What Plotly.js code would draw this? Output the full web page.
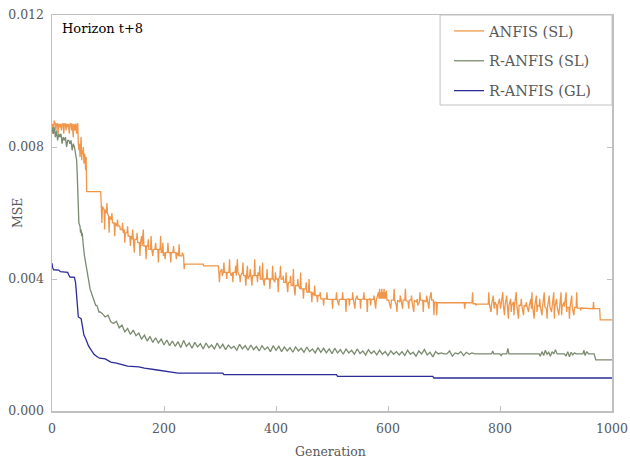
<!DOCTYPE html>
<html>
<head>
<meta charset="utf-8">
<script src="https://cdn.plot.ly/plotly-3.0.1.min.js"></script>
<style>html,body{margin:0;padding:0;background:#fff;}#chart{width:630px;height:460px;}</style>
</head>
<body>
<div id="chart"></div>
<script>
// [generation, MSE] pairs
const anfisSL = [
[0,0.0085],[1,0.0087],[2,0.0084],[3,0.0087],[4,0.0088],[6,0.0087],[7,0.0085],[8,0.0087],[10,0.0087],[11,0.0084],
[12,0.0087],[14,0.0086],[15,0.0087],[17,0.0085],[18,0.0087],[20,0.0087],[21,0.0084],[22,0.0087],[24,0.0087],[25,0.0085],
[26,0.0087],[28,0.0086],[29,0.0087],[31,0.0084],[32,0.0087],[34,0.0087],[35,0.0085],[36,0.0087],[38,0.0083],[39,0.0087],
[41,0.0085],[42,0.0087],[44,0.0084],[45,0.0087],[46,0.0087],
[47,0.0081],[48,0.0079],[49,0.0081],[50,0.0077],[51,0.0080],[52,0.0083],[53,0.0076],[54,0.0079],[55,0.0078],[56,0.0080],
[57,0.0075],[58,0.0078],[59,0.0077],[60,0.0073],[61,0.0077],[62,0.00665],[87,0.00665],
[88,0.0062],[89,0.0057],[90,0.0062],[93,0.0061],[94,0.0055],[95,0.0061],[97,0.0060],[98,0.0063],[99,0.0060],[101,0.0059],
[102,0.0054],[103,0.0059],[106,0.0058],[107,0.0060],[108,0.0057],[111,0.0057],[112,0.0053],[113,0.0057],[116,0.0056],[117,0.0058],
[118,0.0056],[121,0.0056],[122,0.0055],[125,0.0055],[126,0.0057],[127,0.0054],[129,0.0055],[130,0.0051],[131,0.0054],[134,0.0054],
[135,0.0056],[136,0.0053],[139,0.0053],[140,0.0050],[141,0.0053],[143,0.0052],[144,0.0055],[145,0.0052],[147,0.0048],[148,0.0052],
[151,0.0052],[152,0.0054],[153,0.0051],[156,0.0051],[157,0.0047],[158,0.0051],[160,0.0053],[161,0.0050],[163,0.0055],[164,0.0050],
[167,0.0050],[168,0.0046],[169,0.0050],[171,0.0050],[172,0.0052],[173,0.0049],[176,0.0049],[177,0.0053],[178,0.0049],[180,0.0047],
[181,0.0049],[184,0.0049],[185,0.0051],[186,0.0049],[189,0.0049],[190,0.0045],[191,0.0049],[193,0.0049],[194,0.0053],[195,0.0048],
[197,0.0048],[198,0.0051],[199,0.0047],[201,0.0048],[202,0.0046],[203,0.0048],[206,0.0048],[207,0.0051],[208,0.0048],[211,0.0048],
[212,0.0045],[213,0.0048],[216,0.0048],[217,0.0050],[218,0.0048],[221,0.0048],[222,0.0046],[223,0.0048],[226,0.0047],[227,0.00505],
[228,0.0047],[232,0.0047],[233,0.0048],[235,0.0047],[236,0.0043],[237,0.00445],[270,0.00445],[271,0.0044],[297,0.0044],
[298,0.0042],[299,0.0039],[300,0.0042],[303,0.0043],[304,0.0041],[306,0.0042],[307,0.0045],[308,0.0042],[311,0.0042],[312,0.0040],
[313,0.0042],[316,0.0042],[317,0.0046],[318,0.0042],[320,0.0041],[322,0.0042],[323,0.0039],[324,0.0042],[327,0.0042],[328,0.0044],
[329,0.0041],[331,0.0046],[332,0.0042],[335,0.0041],[336,0.0039],[337,0.0041],[340,0.0042],[341,0.0045],[342,0.0041],[345,0.0041],
[346,0.0038],[347,0.0041],[349,0.0044],[350,0.0040],[353,0.0041],[354,0.0043],[355,0.0041],[357,0.0038],[358,0.0041],[361,0.0041],
[362,0.0046],[363,0.0041],[366,0.0041],[367,0.0039],[368,0.0042],[370,0.0041],[371,0.0044],[372,0.0040],[375,0.0040],[376,0.0045],
[377,0.0040],[379,0.0038],[380,0.0040],[383,0.0040],[384,0.0043],[385,0.0040],[388,0.0040],[389,0.0037],[390,0.0040],[393,0.0040],
[394,0.0044],[395,0.0040],[398,0.0039],[399,0.0042],[400,0.0040],
[403,0.0040],[404,0.0036],[405,0.0040],[407,0.0041],[408,0.0044],[409,0.0040],[412,0.0040],[413,0.0041],[414,0.0039],[417,0.0039],
[418,0.0042],[419,0.0039],[421,0.0036],[422,0.0039],[425,0.0039],[426,0.0041],[427,0.0038],[430,0.0038],[431,0.0043],[432,0.0038],
[434,0.0035],[435,0.0038],[438,0.0038],[439,0.0040],[440,0.0038],[443,0.0037],[444,0.0042],[445,0.0037],[448,0.0037],[449,0.0034],
[450,0.0037],[453,0.0037],[454,0.0039],[455,0.0036],[458,0.0036],[459,0.0040],[460,0.0036],[463,0.0036],[464,0.0033],[465,0.0036],
[468,0.0035],[469,0.0038],[470,0.0035],[473,0.0035],[474,0.0033],[475,0.0035],[478,0.0035],[479,0.0036],[480,0.0034],[484,0.0034],
[485,0.0032],[486,0.0034],[490,0.0034],[491,0.0036],[492,0.00338],[500,0.00338],[501,0.0031],[502,0.00338],[507,0.00338],[508,0.0036],
[509,0.00338],[512,0.0032],[513,0.00338],
[518,0.00338],[519,0.0036],[520,0.00338],[524,0.00338],[525,0.0030],[526,0.00338],[530,0.0034],[531,0.0032],[532,0.00338],[536,0.00338],
[537,0.0036],[538,0.00338],[541,0.0031],[542,0.00338],[545,0.0035],[546,0.00338],[550,0.00338],[551,0.0031],[552,0.00338],[556,0.0034],
[557,0.0036],[558,0.00338],[562,0.00338],[563,0.0030],[564,0.00338],[568,0.0034],[569,0.0032],[570,0.00338],[574,0.00338],[575,0.0035],
[576,0.00336],[578,0.0031],[579,0.00336],[583,0.0036],[584,0.0034],[585,0.0037],[586,0.0034],[587,0.0036],[588,0.0034],[589,0.0037],
[590,0.0034],[591,0.0036],[592,0.0034],[593,0.0037],[594,0.0034],[595,0.0036],[596,0.0034],[597,0.00365],[598,0.00336],[601,0.00336],
[602,0.0033],[605,0.0031],[606,0.00336],[610,0.00336],[611,0.0037],[612,0.00336],[615,0.0032],[616,0.0030],[617,0.00336],[621,0.0033],
[622,0.0035],[623,0.00336],[626,0.0031],[627,0.00336],[630,0.00336],[631,0.0037],[632,0.00336],[636,0.0033],[637,0.0031],[638,0.00336],
[641,0.00336],[642,0.0035],[643,0.0033],[646,0.0030],[647,0.00336],[651,0.0033],[652,0.0034],[653,0.0032],[656,0.0033],[657,0.0036],
[658,0.00336],[662,0.00336],[663,0.0030],[664,0.00336],[668,0.0033],[669,0.0035],[670,0.00336],[673,0.0031],[674,0.00336],[677,0.0036],
[678,0.00336],[681,0.00336],[682,0.0029],[683,0.0033],[686,0.0033],[687,0.0029],[688,0.00328],
[736,0.00328],[737,0.0031],[738,0.00328],[750,0.00328],[751,0.0036],[752,0.00325],[756,0.00325],[757,0.0032],[758,0.00324],[779,0.00324],
[780,0.0036],[781,0.00324],[784,0.0030],[785,0.00324],[788,0.0035],[789,0.0032],[790,0.0031],[791,0.0033],[794,0.0032],[795,0.0029],
[796,0.0032],[799,0.0034],[800,0.0033],[801,0.0031],[802,0.00322],[805,0.0036],[806,0.0032],[808,0.0029],[809,0.0032],[812,0.0035],
[813,0.0032],[815,0.0028],[816,0.0032],[819,0.0034],[820,0.0030],[821,0.0032],[824,0.0033],[825,0.0029],[826,0.0032],[829,0.0036],
[830,0.0032],[833,0.0028],[834,0.0032],[837,0.0032],[838,0.0034],[839,0.0032],[842,0.0029],[843,0.0032],[846,0.00318],[847,0.0033],
[848,0.00318],[851,0.0030],[852,0.00318],[855,0.0034],[856,0.0031],[857,0.0036],[858,0.00318],[861,0.0028],[862,0.00318],[865,0.0035],
[866,0.0030],[867,0.0032],[870,0.00318],[871,0.0034],[872,0.00316],[875,0.0029],[876,0.00316],[879,0.0036],[880,0.00316],[883,0.0031],
[884,0.0028],[885,0.00316],[888,0.0035],[889,0.00316],[892,0.0030],[893,0.00316],[896,0.0036],[897,0.0028],[898,0.00316],[901,0.0034],
[902,0.00316],[905,0.0029],[906,0.00316],[909,0.0036],[910,0.0029],[911,0.00316],[914,0.0033],[915,0.00316],[918,0.0036],[919,0.0030],
[920,0.00314],[923,0.00314],[924,0.0028],[925,0.00314],[928,0.0035],[929,0.00314],[932,0.0029],[933,0.00314],[936,0.00314],[937,0.0036],
[938,0.00312],[943,0.00312],[944,0.00305],[945,0.00312],[966,0.0031],[967,0.0033],[968,0.0031],[978,0.0031],[979,0.00276],[1000,0.00276]
];

const ranfisSL = [
[0,0.0086],[2,0.0084],[4,0.0086],[6,0.0083],[8,0.0085],[10,0.0082],[12,0.0084],[14,0.0083],[16,0.0084],[18,0.0081],
[20,0.0083],[22,0.0082],[24,0.0083],[26,0.0080],[28,0.0082],[30,0.0082],[32,0.0081],[34,0.0082],[36,0.0079],[38,0.0081],
[40,0.0080],[42,0.0078],[44,0.0076],[45,0.0072],[46,0.0068],[47,0.0062],[48,0.0057],[50,0.0056],[51,0.0054],[52,0.0055],
[53,0.0053],[54,0.0054],[55,0.0051],[56,0.0050],[58,0.0047],[60,0.0045],[62,0.0042],[64,0.0041],[66,0.0039],[68,0.0037],
[70,0.0036],[72,0.0035],[74,0.0034],[76,0.0033],[78,0.0032],[80,0.0032],[82,0.0031],[84,0.0030],[86,0.0030],
[90,0.00295],[95,0.00285],[100,0.00290],[105,0.00270],[110,0.00265],[115,0.00272],[120,0.00252],[125,0.00260],[130,0.00240],[135,0.00250],
[140,0.00232],[145,0.00245],[150,0.00228],[155,0.00236],[160,0.00218],[165,0.00230],[170,0.00212],[175,0.00226],[180,0.00208],[185,0.00222],
[190,0.00206],[195,0.00218],[200,0.00200],[205,0.00215],[210,0.00198],[215,0.00212],[220,0.00196],[225,0.00210],[230,0.00192],[235,0.00214],
[240,0.00196],[245,0.00206],[250,0.00190],[255,0.00208],[260,0.00194],[265,0.00204],[270,0.00188],[275,0.00206],[280,0.00192],[285,0.00200],
[290,0.00188],[295,0.00206],[300,0.00190],[305,0.00202],[310,0.00186],[315,0.00200],[320,0.00190],[325,0.00196],[330,0.00184],[335,0.00202],
[340,0.00188],[345,0.00198],[350,0.00184],[355,0.00200],[360,0.00186],[365,0.00196],[370,0.00182],[375,0.00198],[380,0.00186],[385,0.00194],
[390,0.00180],[395,0.00198],[400,0.00184],[405,0.00196],[410,0.00180],[415,0.00194],[420,0.00182],[425,0.00192],[430,0.00178],[435,0.00194],
[440,0.00182],[445,0.00190],[450,0.00178],[455,0.00194],[460,0.00180],[465,0.00188],[470,0.00176],[475,0.00192],[480,0.00178],[485,0.00190],
[490,0.00176],[495,0.00188],[500,0.00174],[505,0.00190],[510,0.00176],[515,0.00186],[520,0.00172],[525,0.00188],[530,0.00176],[535,0.00184],
[540,0.00172],[545,0.00188],[550,0.00174],[555,0.00182],[560,0.00170],[565,0.00186],[570,0.00174],[575,0.00182],[580,0.00170],[585,0.00184],
[590,0.00172],[595,0.00180],[600,0.00168],[605,0.00182],[610,0.00172],[615,0.00180],[620,0.00170],
[625,0.00180],[630,0.00168],[635,0.00184],[640,0.00172],[645,0.00178],[650,0.00166],[655,0.00182],[660,0.00173],[665,0.00186],[670,0.00170],
[675,0.00178],[680,0.00164],[685,0.00180],[690,0.00173],[695,0.00176],[700,0.00173],[705,0.00173],[710,0.00182],[715,0.00166],[720,0.00176],
[725,0.00173],[730,0.00180],[735,0.00168],[740,0.00178],[745,0.00172],[750,0.00176],[755,0.00173],[785,0.00173],[787,0.00182],[789,0.00173],
[800,0.00173],[802,0.00168],[804,0.00173],[812,0.00173],[814,0.00190],[816,0.00173],[870,0.00173],[872,0.00166],[875,0.00180],[878,0.00168],
[881,0.00184],[884,0.00172],[887,0.00178],[890,0.00166],[893,0.00180],[896,0.00173],[899,0.00186],[902,0.00173],[915,0.00173],[918,0.00166],
[921,0.00180],[924,0.00164],[927,0.00178],[930,0.00170],[933,0.00176],[936,0.00173],[948,0.00173],[950,0.00184],[952,0.00168],[955,0.00180],
[958,0.00173],[968,0.00173],[971,0.00155],[1000,0.00155]
];

const ranfisGL = [
[0,0.00448],[1,0.00435],[3,0.00428],[12,0.00427],[15,0.00422],[28,0.0042],[30,0.00412],[32,0.00406],[40,0.00405],[42,0.0039],
[43,0.0037],[44,0.0035],[45,0.0033],[46,0.0030],[47,0.00285],[52,0.0028],[53,0.0027],[55,0.0025],[57,0.0023],[60,0.0022],
[62,0.0021],[65,0.00198],[68,0.0019],[72,0.0018],[75,0.00172],[80,0.00165],[85,0.0016],[95,0.00158],[100,0.00152],[105,0.00148],
[115,0.00145],[125,0.0014],[135,0.00136],[155,0.00134],[165,0.0013],[185,0.00125],[200,0.00122],[215,0.00118],[225,0.00115],[305,0.00115],
[307,0.0011],[508,0.0011],[510,0.00105],[680,0.00105],[682,0.001],[1000,0.001]
];

const seriesNames = ['ANFIS (SL)', 'R-ANFIS (SL)', 'R-ANFIS (GL)'];
const seriesData = [anfisSL, ranfisSL, ranfisGL];
const seriesColors = ['#F0964A', '#7B8B6F', '#2B2B9A'];

const xTicks = [0, 200, 400, 600, 800, 1000];
const yTicks = [0, 0.004, 0.008, 0.012];
const yTickText = ['0.000', '0.004', '0.008', '0.012'];

const traces = seriesData.map((d, i) => ({
  type: 'scatter', mode: 'lines',
  x: d.map(p => p[0]), y: d.map(p => p[1]),
  name: seriesNames[i], legendgroup: 'g' + i,
  line: { color: seriesColors[i], width: 1.3 }
}));

const SERIF = 'DejaVu Serif';
const greyFont = { family: SERIF, size: 12.5, color: '#595959' };
const legendFont = { family: SERIF, size: 14.5, color: '#595959' };

const layout = {
  width: 630, height: 460,
  font: { family: SERIF },
  margin: { l: 52, r: 18, t: 15, b: 49 },
  paper_bgcolor: '#ffffff', plot_bgcolor: '#ffffff',
  showlegend: true,
  legend: {
    x: 0.709, y: 1, xanchor: 'left', yanchor: 'top',
    bgcolor: 'rgba(0,0,0,0)', borderwidth: 0,
    font: legendFont, tracegroupgap: 8, itemwidth: 30
  },
  shapes: [{
    type: 'rect', xref: 'paper', yref: 'paper', x0: 0.693, x1: 1, y0: 0.7727, y1: 1,
    line: { color: '#c0c0c0', width: 1 }, fillcolor: '#ffffff', layer: 'above'
  }],
  xaxis: {
    range: [0, 1000], tickvals: xTicks, ticktext: xTicks.map(String),
    ticks: 'inside', ticklen: 5, tickcolor: '#c0c0c0', ticklabelstandoff: 5,
    showline: true, linecolor: '#c0c0c0', linewidth: 1.5, mirror: true,
    showgrid: false, zeroline: false, tickfont: greyFont
  },
  yaxis: {
    range: [0, 0.012], tickvals: yTicks, ticktext: yTickText,
    ticks: 'inside', ticklen: 5, tickcolor: '#c0c0c0', ticklabelstandoff: 4,
    showline: true, linecolor: '#c0c0c0', linewidth: 1.5, mirror: 'ticks',
    showgrid: false, zeroline: false, tickfont: greyFont
  },
  annotations: [
    { xref: 'paper', yref: 'paper', x: 0.015, y: 0.965, xanchor: 'left', yanchor: 'middle',
      text: 'Horizon t+8', showarrow: false,
      font: { family: SERIF, size: 13, color: '#000000' } },
    { xref: 'paper', yref: 'paper', x: -0.0625, y: 0.5, xanchor: 'center', yanchor: 'middle',
      text: 'MSE', textangle: -90, showarrow: false, font: greyFont },
    { xref: 'paper', yref: 'paper', x: 0.498, y: -0.1035, xanchor: 'center', yanchor: 'middle',
      text: 'Generation', showarrow: false, font: greyFont }
  ]
};

Plotly.newPlot('chart', traces, layout, { displayModeBar: false, staticPlot: true });
</script>
</body>
</html>
